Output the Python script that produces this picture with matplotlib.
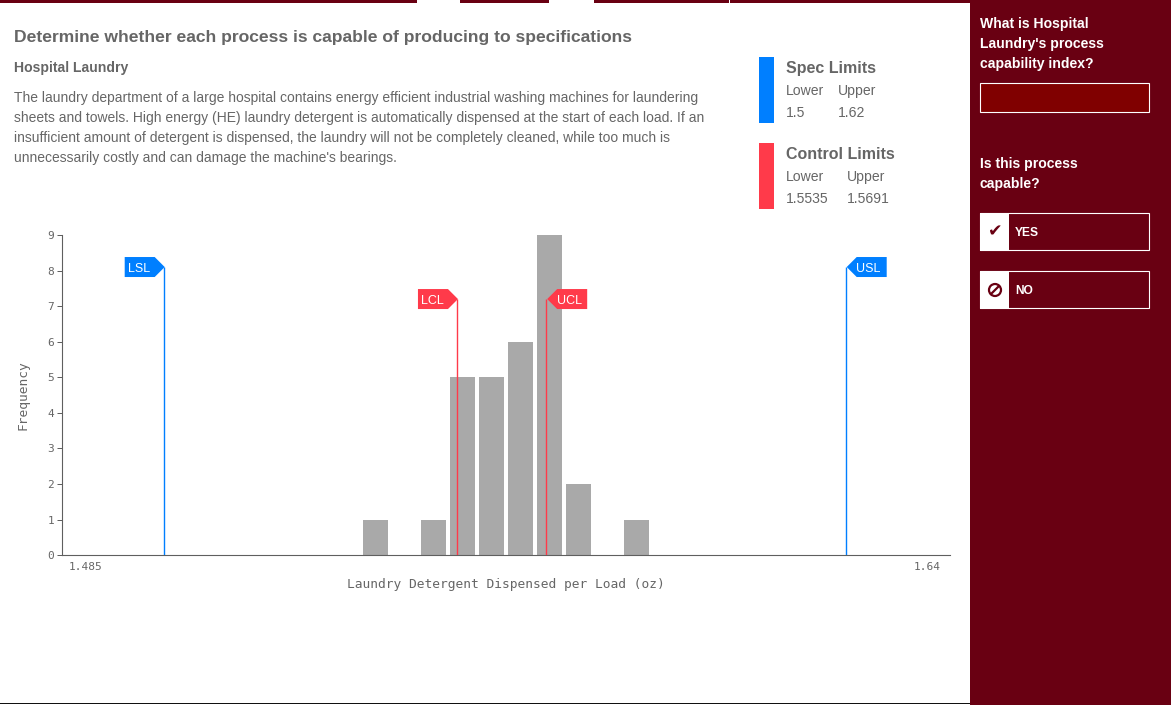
import matplotlib
matplotlib.use("Agg")
import matplotlib.pyplot as plt
from matplotlib.patches import Rectangle, Polygon, Circle

# ---- data ----
bin_centers = [1.5372, 1.5474, 1.5525, 1.5576, 1.5627, 1.5678, 1.5729, 1.5831]
frequencies = [1, 1, 5, 5, 6, 9, 2, 1]
limit_names = ["LSL", "LCL", "UCL", "USL"]
limit_positions = [1.5, 1.5516, 1.5673, 1.62]
limit_heights = [8.1, 7.2, 7.2, 8.1]
x_tick_positions = [1.4862, 1.6342]
x_tick_labels = ["1.485", "1.64"]
y_ticks = list(range(10))
spec_limits = ["1.5", "1.62"]
control_limits = ["1.5535", "1.5691"]
question_labels = ["YES", "NO"]

W, H = 1172, 705
MAROON = "#690012"
BLUE = "#007FFF"
RED = "#FF3A4A"
GREY = "#A9A9A9"
TEXT = "#666666"
SANS = "Liberation Sans"
MONO = "DejaVu Sans Mono"
PX = 0.72  # points per pixel at dpi 100

fig = plt.figure(figsize=(W / 100, H / 100), dpi=100, facecolor="white")

# overlay in pixel coordinates for the page furniture
ui = fig.add_axes([0, 0, 1, 1], zorder=0)
ui.set_xlim(0, W)
ui.set_ylim(H, 0)
ui.axis("off")

# ---- chart ----
left, right, top, bottom = 62.0, 950.0, 235.0, 555.2
ax = fig.add_axes([left / W, 1 - bottom / H, (right - left) / W, (bottom - top) / H], zorder=1)
ax.patch.set_alpha(0)
scale = (846.0 - 164.0) / 0.12
ax.set_xlim(1.5 - (164.0 - left) / scale, 1.5 + (right - 164.0) / scale)
ax.set_ylim(0, 9)
ax.bar(bin_centers, frequencies, width=25 / scale, color=GREY, linewidth=0, zorder=2)
for s in ("top", "right"):
    ax.spines[s].set_visible(False)
for s in ("left", "bottom"):
    ax.spines[s].set_color("#5f5f5f")
    ax.spines[s].set_linewidth(0.8)
ax.set_yticks(y_ticks)
ax.set_xticks(x_tick_positions, x_tick_labels)
ax.tick_params(axis="y", length=5 * PX, width=0.72, color="#5f5f5f", labelcolor=TEXT,
               labelsize=8.0, pad=2)
ax.tick_params(axis="x", length=0, labelcolor=TEXT, labelsize=8.0, pad=5)
for lab in ax.get_xticklabels() + ax.get_yticklabels():
    lab.set_family(MONO)
ax.set_xlabel("Laundry Detergent Dispensed per Load (oz)", family=MONO, fontsize=9.25,
              color=TEXT, labelpad=4)
ax.set_ylabel("Frequency", family=MONO, fontsize=9.25, color=TEXT, labelpad=13)

# limit lines and flags, anchored on the data scale
for name, xv, hv in zip(limit_names, limit_positions, limit_heights):
    colour = BLUE if name.endswith("SL") else RED
    ax.plot([xv, xv], [0, hv], color=colour, lw=1.0, zorder=3, solid_capstyle="butt")
    px, py_up = ax.transData.transform((xv, hv))
    px += 0.7
    py = H - py_up
    if name.startswith("L"):
        pts = [(px, py), (px - 10, py - 10), (px - 40, py - 10), (px - 40, py + 10),
               (px - 10, py + 10)]
        tx = px - 36.5
    else:
        pts = [(px, py), (px + 10, py - 10), (px + 40, py - 10), (px + 40, py + 10),
               (px + 10, py + 10)]
        tx = px + 9.5
    ov = fig.add_axes([0, 0, 1, 1], zorder=2, label=name)
    ov.set_xlim(0, W)
    ov.set_ylim(H, 0)
    ov.axis("off")
    ov.add_patch(Polygon(pts, closed=True, facecolor=colour, edgecolor="none"))
    ov.text(tx, py + 4.5, name, family=SANS, fontsize=12.5 * PX, color="white", va="baseline")

# ---- page furniture ----
def t(x, y, s, size, weight="normal", color=TEXT):
    ui.text(x, y, s, family=SANS, fontsize=size * PX, fontweight=weight, color=color,
            va="baseline", ha="left")

for a, b in [(0, 417), (460, 549), (594, 729), (730, 970)]:
    ui.add_patch(Rectangle((a, 0), b - a, 3, facecolor=MAROON, edgecolor="none"))
ui.add_patch(Rectangle((0, 703), 970, 1, facecolor="#111111", edgecolor="none"))
ui.add_patch(Rectangle((970, 0), 201, H, facecolor=MAROON, edgecolor="none"))

t(14, 42, "Determine whether each process is capable of producing to specifications", 17.5, "bold")
t(14, 72, "Hospital Laundry", 14, "bold")
body = ["The laundry department of a large hospital contains energy efficient industrial washing machines for laundering",
        "sheets and towels. High energy (HE) laundry detergent is automatically dispensed at the start of each load. If an",
        "insufficient amount of detergent is dispensed, the laundry will not be completely cleaned, while too much is",
        "unnecessarily costly and can damage the machine's bearings."]
for i, line in enumerate(body):
    t(14, 102 + 20 * i, line, 13.95)

ui.add_patch(Rectangle((759, 57), 15, 66, facecolor=BLUE, edgecolor="none"))
ui.add_patch(Rectangle((759, 143), 15, 66, facecolor=RED, edgecolor="none"))
t(786, 73, "Spec Limits", 16, "bold")
t(786, 95, "Lower", 14)
t(838, 95, "Upper", 14)
t(786, 117, spec_limits[0], 14)
t(838, 117, spec_limits[1], 14)
t(785.5, 159, "Control Limits", 16, "bold")
t(786, 181, "Lower", 14)
t(847, 181, "Upper", 14)
t(786, 203, control_limits[0], 14)
t(847, 203, control_limits[1], 14)

for i, line in enumerate(["What is Hospital", "Laundry's process", "capability index?"]):
    t(980, 28 + 20 * i, line, 14, "bold", "white")
ui.add_patch(Rectangle((980, 83), 169, 29, facecolor="#800000", edgecolor="white", linewidth=0.8))
for i, line in enumerate(["Is this process", "capable?"]):
    t(980, 168 + 20 * i, line, 14, "bold", "white")

for label, y0 in zip(question_labels, (213, 271)):
    ui.add_patch(Rectangle((980, y0), 169, 37, facecolor=MAROON, edgecolor="white", linewidth=0.8))
    ui.add_patch(Rectangle((980, y0), 29, 38, facecolor="white", edgecolor="none"))
    t(1015, y0 + 23, label, 12, "bold", "white")
ui.text(995, 231, "\u2714", family="DejaVu Sans", fontsize=12.5, color=MAROON, ha="center", va="center")
ui.add_patch(Circle((995, 290), 6, facecolor="none", edgecolor=MAROON, linewidth=1.6))
ui.plot([991, 999], [294, 286], color=MAROON, lw=1.6, solid_capstyle="butt")

fig.savefig("out.png", dpi=100, facecolor="white")
